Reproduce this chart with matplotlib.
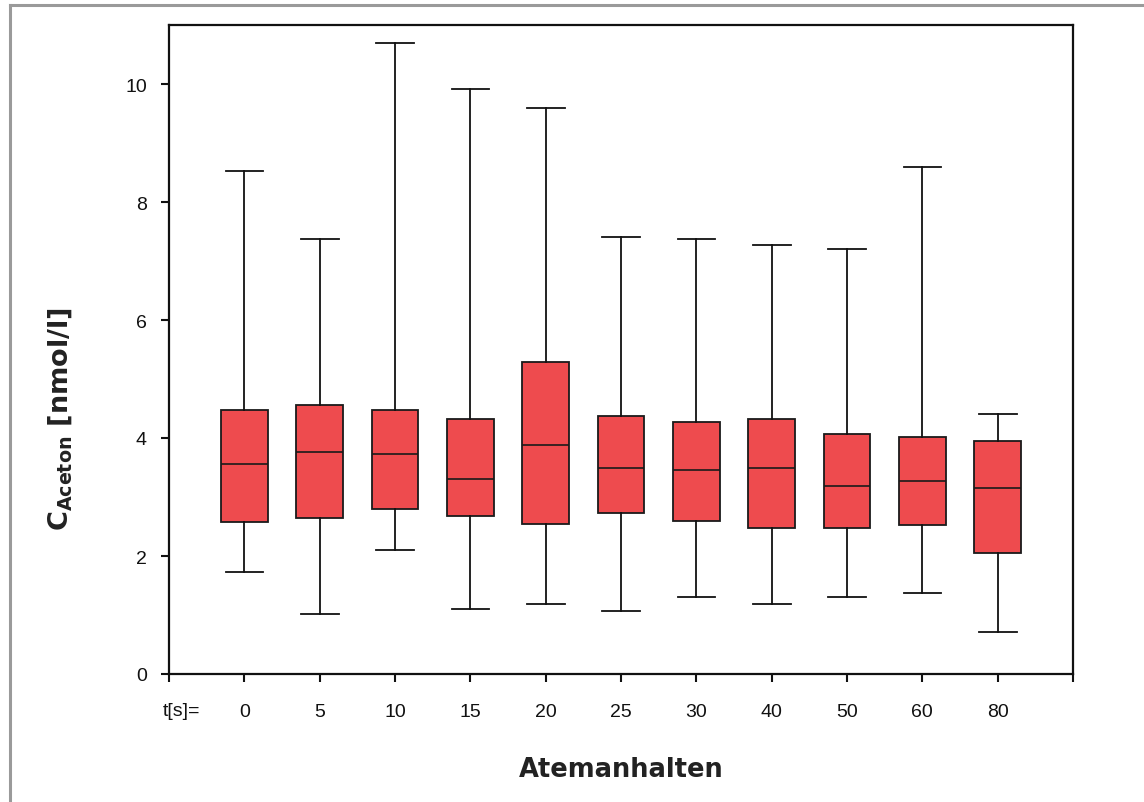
import matplotlib
matplotlib.use("Agg")
import matplotlib.pyplot as plt
from matplotlib.lines import Line2D

# Data
categories = ["0", "5", "10", "15", "20", "25", "30", "40", "50", "60", "80"]
whisker_low = [1.73, 1.02, 2.10, 1.10, 1.19, 1.07, 1.31, 1.19, 1.31, 1.37, 0.71]
q1 = [2.58, 2.64, 2.80, 2.68, 2.54, 2.73, 2.59, 2.47, 2.47, 2.52, 2.05]
median = [3.56, 3.77, 3.73, 3.31, 3.88, 3.50, 3.45, 3.49, 3.19, 3.27, 3.15]
q3 = [4.47, 4.56, 4.47, 4.33, 5.29, 4.37, 4.27, 4.33, 4.07, 4.02, 3.95]
whisker_high = [8.53, 7.37, 10.70, 9.92, 9.59, 7.41, 7.37, 7.27, 7.21, 8.59, 4.41]
yticks = [0, 2, 4, 6, 8, 10]

plt.rcParams['font.family'] = ['Liberation Sans', 'DejaVu Sans']
plt.rcParams['mathtext.fontset'] = 'dejavusans'

fig = plt.figure(figsize=(11.44, 8.03), dpi=100)
ax = fig.add_axes([169/1144, 1-675/803, (1073-169)/1144, (675-26)/803])

stats = []
for i, c in enumerate(categories):
    stats.append(dict(label=c, whislo=whisker_low[i], q1=q1[i], med=median[i],
                      q3=q3[i], whishi=whisker_high[i], fliers=[]))

positions = list(range(1, len(categories) + 1))
ax.bxp(stats, positions=positions, widths=0.62, patch_artist=True, showfliers=False,
       boxprops=dict(facecolor='#EE4B4E', edgecolor='#1a1a1a', linewidth=1.3),
       medianprops=dict(color='#1a1a1a', linewidth=1.2),
       whiskerprops=dict(color='#111111', linewidth=1.3),
       capprops=dict(color='#111111', linewidth=1.3),
       capwidths=0.5)

ax.set_xlim(0, len(categories) + 1)
ax.set_ylim(0, 11)
ax.set_xticks(range(0, len(categories) + 2))
ax.set_xticklabels([''] + categories + [''])
ax.set_yticks(yticks)
ax.set_yticklabels([str(v) for v in yticks])

for s in ax.spines.values():
    s.set_linewidth(1.6)
    s.set_color('#111111')
ax.tick_params(axis='both', direction='out', length=6, width=1.5, labelsize=14, colors='#111111')
ax.tick_params(axis='y', pad=10)
ax.tick_params(axis='x', pad=15)

ax.text(0.16, -0.057, 't[s]=', transform=ax.get_xaxis_transform(), ha='center', va='center',
        fontsize=14, color='#111111')

ax.set_xlabel('Atemanhalten', fontsize=18.5, fontweight='bold', family='DejaVu Sans',
              color='#222222')
ax.xaxis.set_label_coords(0.5, -0.127)
ax.set_ylabel(r'$\mathbf{C}_{\mathbf{Aceton}}$ [nmol/l]', fontsize=19.5, fontweight='bold',
              family='DejaVu Sans', color='#222222')
ax.yaxis.set_label_coords(-0.105, 0.394)

# gray frame border (top and left)
fig.add_artist(Line2D([9.5/1144, 1.0], [1-6/803, 1-6/803], transform=fig.transFigure,
                      color='#9a9a9a', linewidth=2.2))
fig.add_artist(Line2D([9.5/1144, 9.5/1144], [0, 1-6/803], transform=fig.transFigure,
                      color='#9a9a9a', linewidth=2.2))

fig.savefig('out.png', dpi=100)
